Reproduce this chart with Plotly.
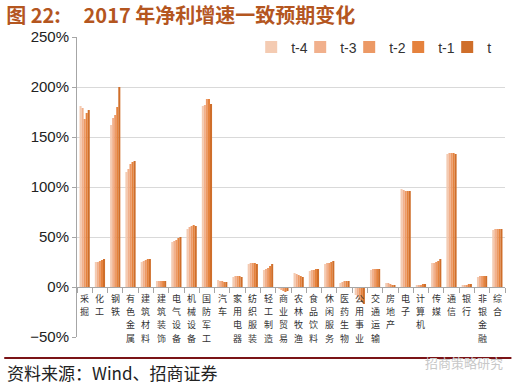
import plotly.graph_objects as go

categories = ["采掘", "化工", "钢铁", "有色金属", "建筑材料", "建筑装饰", "电气设备", "机械设备",
              "国防军工", "汽车", "家用电器", "纺织服装", "轻工制造", "商业贸易", "农林牧渔", "食品饮料",
              "休闲服务", "医药生物", "公用事业", "交通运输", "房地产", "电子", "计算机", "传媒",
              "通信", "银行", "非银金融", "综合"]

series_names = ["t-4", "t-3", "t-2", "t-1", "t"]

t_4 = [181, 25, 162, 115, 25, 6, 45, 58, 181, 7, 10, 23, 17, -2, 14, 16, 23, 4, -8, 17, 4, 98, 2, 24, 133, 2, 10, 57]
t_3 = [179, 25, 169, 118, 26, 6, 46, 60, 182, 6, 11, 24, 18, -3, 13, 17, 24, 5, -10, 18, 4, 97, 2, 24, 134, 2, 11, 58]
t_2 = [168, 26, 172, 123, 27, 6, 47, 61, 188, 6, 11, 24, 19, -4, 12, 17, 24, 6, -13, 18, 3, 96, 2, 25, 134, 2, 11, 58]
t_1 = [174, 27, 180, 125, 28, 6, 49, 62, 188, 5, 11, 24, 21, -5, 11, 18, 25, 6, -15, 18, 2, 96, 3, 26, 134, 3, 11, 58]
t_0 = [177, 28, 200, 126, 28, 6, 50, 61, 183, 5, 10, 23, 23, -4, 10, 18, 26, 6, -17, 18, 2, 96, 3, 28, 133, 3, 11, 58]

values = [t_4, t_3, t_2, t_1, t_0]
colors = ["#F4CBB2", "#F1B08C", "#EC9965", "#E5823D", "#CF6E2A"]

y_min, y_max, y_step = -50, 250, 50

fig = go.Figure()
for name, vals, col in zip(series_names, values, colors):
    fig.add_trace(go.Bar(x=categories, y=vals, name=name, marker=dict(color=col, line=dict(width=0))))

# vertical category labels hanging under the zero line, one character per row
char_pitch = 13.2
for c in categories:
    for i, ch in enumerate(c):
        fig.add_annotation(x=c, y=0, xref="x", yref="y", text=ch,
                           showarrow=False, yanchor="top", yshift=-4 - i * char_pitch, borderpad=0,
                           font=dict(family="Noto Sans CJK SC", size=9, color="#333333"))

zero_pos = (0 - y_min) / (y_max - y_min)

fig.update_layout(
    width=518, height=385,
    margin=dict(l=77, r=13, t=37, b=48, autoexpand=False),
    paper_bgcolor="white", plot_bgcolor="white",
    barmode="group", bargap=0.33, bargroupgap=0,
    font=dict(family="Liberation Sans, Arial, sans-serif", color="#222222"),
    title=dict(text="<b>图 22:\u00a0\u00a0\u00a0\u00a0\u00a02017 年净利增速一致预期变化</b>", xref="container", yref="container",
               x=0.012, xanchor="left", y=1 - 16 / 385, yanchor="middle",
               font=dict(family="Noto Sans CJK SC, Liberation Sans", size=20, color="#B4561F")),
    legend=dict(orientation="h", x=0.407, xanchor="left", y=0.965, yanchor="middle",
                font=dict(size=14, color="#333333"), bgcolor="rgba(0,0,0,0)",
                itemwidth=30, entrywidth=4, entrywidthmode="pixels", traceorder="normal"),
    xaxis=dict(type="category", anchor="free", position=zero_pos, showline=True, linecolor="#A6A6A6",
               linewidth=1, ticks="outside", ticklen=5, tickcolor="#A6A6A6", tickson="boundaries",
               showticklabels=False, showgrid=False, zeroline=False),
    yaxis=dict(range=[y_min, y_max], dtick=y_step, tick0=0, ticksuffix="%", showgrid=True,
               gridcolor="#D9D9D9", gridwidth=1, zeroline=False, showline=True, linecolor="#A6A6A6",
               ticks="outside", ticklen=4, tickcolor="#A6A6A6",
               tickfont=dict(size=15, color="#222222")),
)

# bottom rule, source line and watermark
fig.add_shape(type="line", xref="paper", yref="paper", x0=-0.17, x1=1.015, y0=-0.07, y1=-0.07,
              line=dict(color="#7B1417", width=2))
fig.add_annotation(xref="paper", yref="paper", x=-0.168, y=-0.117, xanchor="left", yanchor="middle",
                   text="资料来源：Wind、招商证券", showarrow=False,
                   font=dict(family="Noto Sans CJK SC", size=17, color="#222222"))
fig.add_annotation(xref="paper", yref="paper", x=1.0, y=-0.085, xanchor="right", yanchor="middle",
                   text="招商策略研究", showarrow=False,
                   font=dict(family="Noto Sans CJK SC", size=13, color="#C8C8C8"))

fig.write_html("out.html", config={"displayModeBar": False},
               post_script="document.body.style.margin='0';")
